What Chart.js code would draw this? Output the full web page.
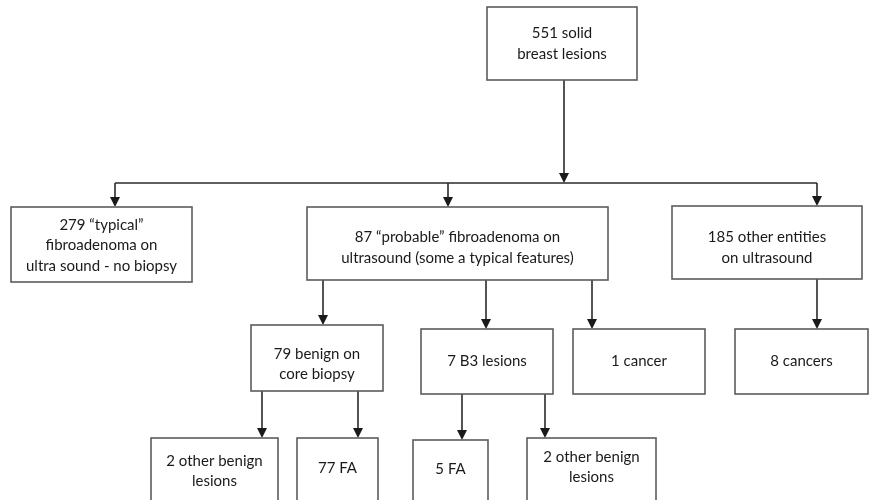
<!DOCTYPE html>
<html>
<head>
<meta charset="utf-8">
<script src="https://cdn.jsdelivr.net/npm/chart.js@4/dist/chart.umd.min.js"></script>
<style>
  html, body { margin: 0; padding: 0; background: #fff; }
  #wrap { width: 872px; height: 500px; }
</style>
</head>
<body>
<div id="wrap"><canvas id="flow"></canvas></div>
<script>
// Node texts and box extents (in chart units, 0..872 across, 0..500 down)
const nodeLabels = [
  '551 solid\nbreast lesions',
  '279 \u201ctypical\u201d\nfibroadenoma on\nultra sound - no biopsy',
  '87 \u201cprobable\u201d fibroadenoma on\nultrasound (some a typical features)',
  '185 other entities\non ultrasound',
  '79 benign on\ncore biopsy',
  '7 B3 lesions',
  '1 cancer',
  '8 cancers',
  '2 other benign\nlesions',
  '77 FA',
  '5 FA',
  '2 other benign\nlesions'
];
const nodeLeft   = [487, 11, 307, 672, 251, 421, 573, 735, 151, 297, 413, 527];
const nodeRight  = [637, 192, 608, 862, 383, 553, 705, 868, 278, 378, 488, 656];
const nodeTop    = [7, 207, 207, 206, 325, 329, 329, 329, 438, 438, 440, 438];
const nodeBottom = [80, 282, 280, 279, 391, 394, 394, 394, 530, 530, 530, 530];
// text sits a little low in some boxes
const nodeTextDy = [0, 1, 4, 5, 6, 0, 0, 0, 3, 0, 0, -1];

// Connectors: parent -> child, dropping at column x
const edgeFrom = [0, 0, 0, 2, 2, 2, 3, 4, 4, 5, 5];
const edgeTo   = [1, 2, 3, 4, 5, 6, 7, 8, 9, 10, 11];
const edgeX    = [115, 448, 817, 323, 486, 592, 817, 262, 358, 462, 545];
// the root fans out through a horizontal bus
const rootStemX = 564;
const rootBusY = 183;

const points = nodeLabels.map((_, i) => ({
  x: (nodeLeft[i] + nodeRight[i]) / 2,
  y: (nodeTop[i] + nodeBottom[i]) / 2
}));

function arrowHead(ctx, x, y) {
  ctx.beginPath();
  ctx.moveTo(x, y);
  ctx.lineTo(x - 5, y - 10);
  ctx.lineTo(x + 5, y - 10);
  ctx.closePath();
  ctx.fill();
}

const flowPlugin = {
  id: 'flowDraw',
  afterDatasetsDraw(chart) {
    const ctx = chart.ctx;
    const sx = chart.scales.x, sy = chart.scales.y;
    const px = v => sx.getPixelForValue(v);
    const py = v => sy.getPixelForValue(v);
    ctx.save();

    // connectors
    ctx.strokeStyle = '#2a2a2a';
    ctx.fillStyle = '#1a1a1a';
    ctx.lineWidth = 1.6;
    // root stem into the bus
    ctx.beginPath();
    ctx.moveTo(px(rootStemX), py(nodeBottom[0]));
    ctx.lineTo(px(rootStemX), py(rootBusY) - 9);
    ctx.stroke();
    arrowHead(ctx, px(rootStemX), py(rootBusY));
    const busXs = edgeX.filter((x, i) => edgeFrom[i] === 0);
    ctx.beginPath();
    ctx.moveTo(px(Math.min(...busXs)), py(rootBusY));
    ctx.lineTo(px(Math.max(...busXs)), py(rootBusY));
    ctx.stroke();

    edgeFrom.forEach((f, i) => {
      const t = edgeTo[i];
      const x = px(edgeX[i]);
      const y0 = f === 0 ? py(rootBusY) : py(nodeBottom[f]);
      const y1 = py(nodeTop[t]);
      ctx.beginPath();
      ctx.moveTo(x, y0);
      ctx.lineTo(x, y1 - 9);
      ctx.stroke();
      arrowHead(ctx, x, y1);
    });

    // boxes
    ctx.strokeStyle = '#5c5c5c';
    ctx.lineWidth = 1.6;
    const bottomLimit = py(498);
    nodeLabels.forEach((label, i) => {
      const l = px(nodeLeft[i]), r = px(nodeRight[i]);
      const t = py(nodeTop[i]), b = py(nodeBottom[i]);
      ctx.fillStyle = '#ffffff';
      ctx.fillRect(l, t, r - l, b - t);
      ctx.strokeRect(l, t, r - l, b - t);

      const lines = label.split('\n');
      const lh = 20.5;
      const cy = (t + Math.min(b, bottomLimit)) / 2 + nodeTextDy[i];
      const cx = (l + r) / 2;
      ctx.fillStyle = '#1a1a1a';
      ctx.font = '15px Lato, "Open Sans", sans-serif';
      ctx.textAlign = 'center';
      ctx.textBaseline = 'middle';
      lines.forEach((ln, k) => {
        ctx.fillText(ln, cx, cy + (k - (lines.length - 1) / 2) * lh);
      });
    });
    ctx.restore();
  }
};

new Chart(document.getElementById('flow'), {
  type: 'scatter',
  data: {
    datasets: [{
      label: 'nodes',
      data: points,
      pointRadius: 0,
      pointHoverRadius: 0
    }]
  },
  options: {
    responsive: true,
    maintainAspectRatio: false,
    animation: false,
    layout: { padding: 0 },
    scales: {
      x: { type: 'linear', min: 0, max: 872, display: false },
      y: { type: 'linear', min: 0, max: 500, reverse: true, display: false }
    },
    plugins: {
      legend: { display: false },
      tooltip: { enabled: false }
    },
    events: []
  },
  plugins: [flowPlugin]
});
</script>
</body>
</html>
